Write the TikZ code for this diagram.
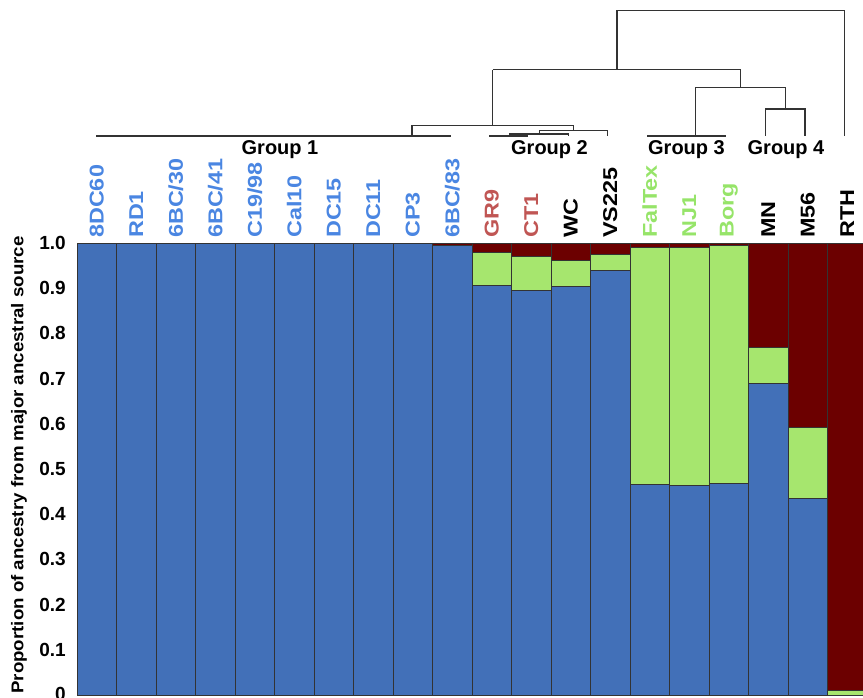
\documentclass[tikz,border=0pt]{standalone}
\usepackage{fontspec}
\setmainfont{Liberation Sans}
\usetikzlibrary{positioning}
\usepackage{xcolor}

\definecolor{barblue}{RGB}{66,112,184}
\definecolor{bargreen}{RGB}{166,230,110}
\definecolor{barred}{RGB}{108,0,0}
\definecolor{labblue}{RGB}{74,134,226}
\definecolor{labred}{RGB}{192,86,84}
\definecolor{labgreen}{RGB}{150,228,105}

\newcommand{\stretchlab}[1]{\scalebox{1.17}[1]{#1}}

\begin{document}
\begin{tikzpicture}[
    x=1pt, y=-1pt,
    sample/.style={rotate=90, anchor=west, inner sep=0pt, font=\fontsize{20}{20}\selectfont\bfseries},
    group/.style={inner sep=0pt, font=\fontsize{20}{20}\selectfont\bfseries},
    tick/.style={anchor=east, inner sep=0pt, font=\fontsize{19}{19}\selectfont\bfseries},
    axis/.style={rotate=90, inner sep=0pt, font=\fontsize{17}{17}\selectfont\bfseries},
    tree/.style={draw=black!80, line width=1.3pt},
    seg/.style={draw=black!80, line width=0.9pt}
]
\useasboundingbox (0,0) rectangle (863,698);
\clip (0,0) rectangle (863,698);

% Bars: index / blue top / green top (red fills the rest)
\foreach \i/\b/\g in {0/1/1, 1/1/1, 2/1/1, 3/1/1, 4/1/1, 5/1/1, 6/1/1, 7/1/1, 8/1/1,
    9/0.995/0.995, 10/0.907/0.978, 11/0.895/0.971, 12/0.903/0.962, 13/0.940/0.975,
    14/0.466/0.991, 15/0.463/0.991, 16/0.469/0.995, 17/0.690/0.768, 18/0.434/0.593,
    19/0/0.011} {
    \filldraw[seg, fill=barred] ({77+39.5*\i}, 243) rectangle ({77+39.5*(\i+1)}, 695);
    \filldraw[seg, fill=bargreen] ({77+39.5*\i}, {695-452*\g}) rectangle ({77+39.5*(\i+1)}, 695);
    \filldraw[seg, fill=barblue] ({77+39.5*\i}, {695-452*\b}) rectangle ({77+39.5*(\i+1)}, 695);
}

% Axis
\node[tick] (t10) at (66, 243) {1.0};
\node[tick] (t9) at (66, 288.2) {0.9};
\node[tick] (t8) at (66, 333.4) {0.8};
\node[tick] (t7) at (66, 378.6) {0.7};
\node[tick] (t6) at (66, 423.8) {0.6};
\node[tick] (t5) at (66, 469) {0.5};
\node[tick] (t4) at (66, 514.2) {0.4};
\node[tick] (t3) at (66, 559.4) {0.3};
\node[tick] (t2) at (66, 604.6) {0.2};
\node[tick] (t1) at (66, 649.8) {0.1};
\node[tick] (t0) at (66, 694) {0};
\node[axis] (ytitle) at (19, 465) {\scalebox{1.1}[1]{Proportion of ancestry from major ancestral source}};

% Sample labels
\node[sample, labblue] (s8dc60) at (96.75, 238) {\stretchlab{8DC60}};
\node[sample, labblue] (srd1) at (136.25, 238) {\stretchlab{RD1}};
\node[sample, labblue] (s6bc30) at (175.75, 238) {\stretchlab{6BC/30}};
\node[sample, labblue] (s6bc41) at (215.25, 238) {\stretchlab{6BC/41}};
\node[sample, labblue] (sc1998) at (254.75, 238) {\stretchlab{C19/98}};
\node[sample, labblue] (scal10) at (294.25, 238) {\stretchlab{Cal10}};
\node[sample, labblue] (sdc15) at (333.75, 238) {\stretchlab{DC15}};
\node[sample, labblue] (sdc11) at (373.25, 238) {\stretchlab{DC11}};
\node[sample, labblue] (scp3) at (412.75, 238) {\stretchlab{CP3}};
\node[sample, labblue] (s6bc83) at (452.25, 238) {\stretchlab{6BC/83}};
\node[sample, labred] (sgr9) at (491.75, 238) {\stretchlab{GR9}};
\node[sample, labred] (sct1) at (531.25, 238) {\stretchlab{CT1}};
\node[sample] (swc) at (570.75, 238) {\stretchlab{WC}};
\node[sample] (svs225) at (610.25, 238) {\stretchlab{VS225}};
\node[sample, labgreen] (sfaltex) at (649.75, 238) {\stretchlab{FalTex}};
\node[sample, labgreen] (snj1) at (689.25, 238) {\stretchlab{NJ1}};
\node[sample, labgreen] (sborg) at (728.75, 238) {\stretchlab{Borg}};
\node[sample] (smn) at (768.25, 238) {\stretchlab{MN}};
\node[sample] (sm56) at (807.75, 238) {\stretchlab{M56}};
\node[sample] (srth) at (847.25, 238) {\stretchlab{RTH}};

% Groups
\node[group] (g1) at (280, 150) {Group 1};
\node[group] (g2) at (549.5, 150) {Group 2};
\node[group] (g3) at (686.5, 150) {Group 3};
\node[group] (g4) at (786, 150) {Group 4};

% Dendrogram
\draw[tree] (96, 136) -- (451, 136);
\draw[tree] (412, 136) -- (412, 125.3) -- (573.7, 125.3) -- (573.7, 130.7);
\draw[tree] (492.7, 125.3) -- (492.7, 69.7);
\draw[tree] (492.7, 69.7) -- (740.3, 69.7) -- (740.3, 87.7);
\draw[tree] (617, 69.7) -- (617, 10.7) -- (844.3, 10.7) -- (844.3, 136);
\draw[tree] (695.7, 136) -- (695.7, 87.7) -- (785.7, 87.7) -- (785.7, 109);
\draw[tree] (647.3, 136) -- (726, 136);
\draw[tree] (765.7, 136) -- (765.7, 109) -- (805, 109) -- (805, 136);
\draw[tree] (539.3, 134) -- (539.3, 130.7) -- (607.3, 130.7) -- (607.3, 136);
\draw[tree] (509, 134) -- (568.3, 134) -- (568.3, 136);
\draw[tree] (489.3, 136) -- (528.3, 136);

\end{tikzpicture}
\end{document}
